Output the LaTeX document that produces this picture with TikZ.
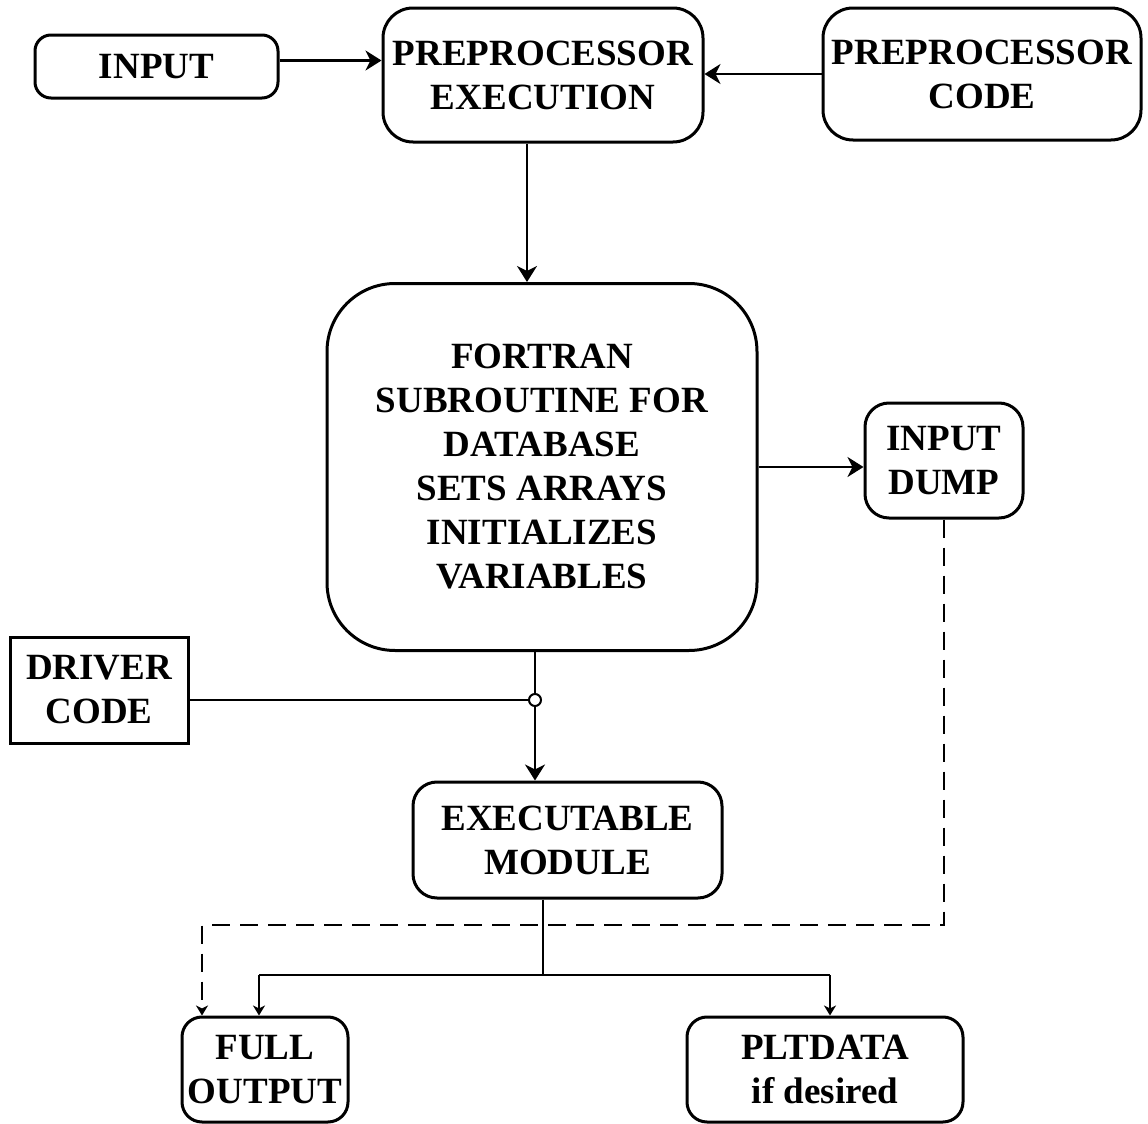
\documentclass[tikz,border=0pt]{standalone}
\usepackage{fontspec}
\setmainfont{Liberation Serif}
\usetikzlibrary{arrows.meta,calc}
\tikzset{
  blk/.style={draw, line width=1.5pt, rounded corners=#1, inner sep=0pt, align=center,
    font=\fontsize{18.5}{22}\selectfont\bfseries},
  blk/.default=8pt,
  conn/.style={line width=1.1pt},
  bigtip/.style={-{Stealth[length=8pt,width=10pt,inset=2.5pt]}},
  smalltip/.style={-{Stealth[length=5pt,width=6pt,inset=1.5pt]}},
  dashconn/.style={conn, dash pattern=on 9pt off 5pt},
  joint/.style={circle, draw, fill=white, line width=1pt, inner sep=0pt, minimum size=6pt}
}
\begin{document}
\begin{tikzpicture}[x=0.5pt,y=-0.5pt]
\useasboundingbox (0,0) rectangle (1148,1124);

% boxes
\node[blk=8pt, minimum width=121.5pt, minimum height=31.5pt] (input) at (156.5,66.5) {INPUT};
\node[blk=15pt, minimum width=160pt, minimum height=67pt] (pe) at (543,75) {PREPROCESSOR\\EXECUTION};
\node[blk=15pt, minimum width=159pt, minimum height=66pt] (pc) at (982,74) {PREPROCESSOR\\CODE};
\node[blk=34pt, minimum width=215pt, minimum height=183.5pt] (fortran) at (542,467)
  {FORTRAN\\SUBROUTINE FOR\\DATABASE\\SETS ARRAYS\\INITIALIZES\\VARIABLES};
\node[blk=12pt, minimum width=79pt, minimum height=57.5pt] (dump) at (944,460.5) {INPUT\\DUMP};
\node[blk=0pt, minimum width=89pt, minimum height=53pt] (driver) at (99,690) {DRIVER\\CODE};
\node[blk=12pt, minimum width=154.5pt, minimum height=58pt] (exec) at (567.5,840) {EXECUTABLE\\MODULE};
\node[blk=10pt, minimum width=83pt, minimum height=52.5pt] (full) at (265,1069.5) {FULL\\OUTPUT};
\node[blk=10pt, minimum width=138pt, minimum height=52.5pt] (plt) at (825,1069.5) {PLTDATA\\if desired};

% junction of driver code and subroutine output
\node[joint] (jn) at (535,700) {};
\coordinate (split) at (543,975);
\coordinate (fullin) at (259,975);
\coordinate (pltin) at (830,975);
\coordinate (dcorner) at (dump.south |- 0,925);
\coordinate (dleft) at (202,925);

% solid connectors
\draw[conn,bigtip] ([yshift=3pt]input.east) -- ([yshift=3pt]pe.west |- input.east);
\draw[conn,bigtip] (pc.west) -- (pe.east |- pc.west);
\draw[conn,bigtip] ([xshift=-8pt]pe.south) -- ([xshift=-8pt]pe.south |- fortran.north);
\draw[conn,bigtip] (fortran.east |- 0,467) -- (dump.west |- 0,467);
\draw[conn] (driver.east |- jn) -- (jn.west);
\draw[conn] (fortran.south -| jn) -- (jn.north);
\draw[conn,bigtip] (jn.south) -- (exec.north -| jn);
\draw[conn] (exec.south -| split) -- (split);
\draw[conn] (fullin) -- (pltin);
\draw[conn,smalltip] (fullin) -- (full.north -| fullin);
\draw[conn,smalltip] (pltin) -- (plt.north -| pltin);

% dashed feedback from input dump
\draw[dashconn,smalltip] (dump.south) -- (dcorner) -- (dleft) -- (full.north -| dleft);
\end{tikzpicture}
\end{document}
